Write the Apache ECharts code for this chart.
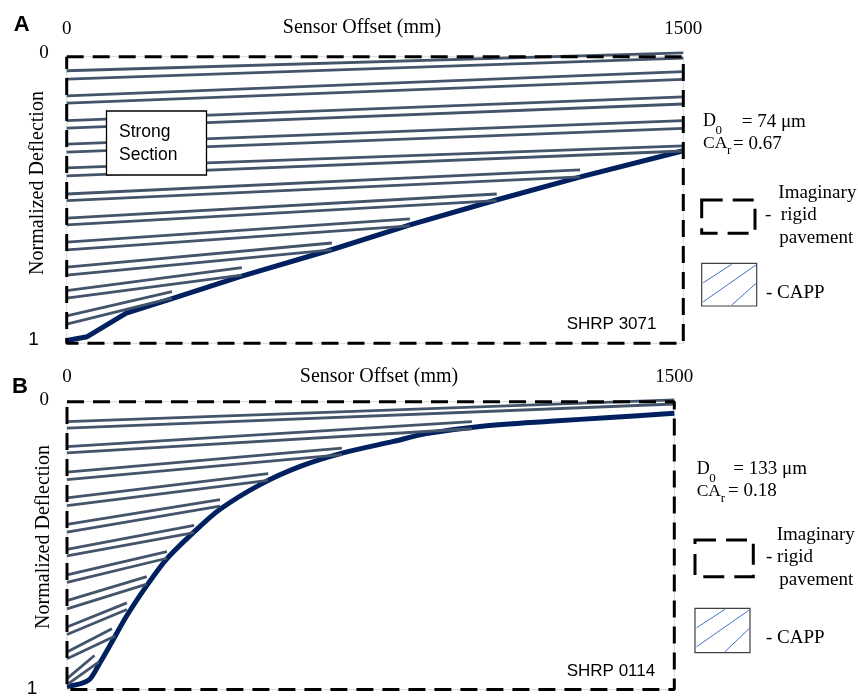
<!DOCTYPE html>
<html>
<head>
<meta charset="utf-8">
<script src="https://cdn.jsdelivr.net/npm/echarts@6/dist/echarts.min.js"></script>
<style>html,body{margin:0;padding:0;background:#fff}#c{width:858px;height:698px}</style>
</head>
<body>
<div id="c"></div>
<script>
// ---- data ----
const xTicks = [0, 1500];
const xTickLabels = ['0', '1500'];
const yTicks = [0, 1];
const yTickLabels = ['0', '1'];
const xTitle = 'Sensor Offset (mm)';
const yTitle = 'Normalized Deflection';

// imaginary rigid pavement frame (offset mm, normalized deflection)
const rigidFrame = [[0, 0], [1500, 0], [1500, 1], [0, 1], [0, 0]];

// Panel A - SHRP 3071
const curveA = [[0, 0.99], [50, 0.977], [145, 0.895], [260, 0.842], [420, 0.768], [650, 0.671], [835, 0.587], [1045, 0.50], [1250, 0.419], [1500, 0.328]];
const hatchA = [
  [0, 0.049, 1500, -0.013], [0, 0.078, 1500, 0.005],
  [0, 0.137, 1500, 0.052], [0, 0.162, 1500, 0.079],
  [0, 0.223, 1500, 0.140], [0, 0.249, 1500, 0.165],
  [0, 0.305, 1500, 0.223], [0, 0.333, 1500, 0.250],
  [0, 0.388, 1500, 0.311], [0, 0.416, 1500, 0.329],
  [0, 0.479, 1249, 0.395], [0, 0.502, 1249, 0.419],
  [0, 0.563, 1046, 0.479], [0, 0.587, 1046, 0.502],
  [0, 0.647, 835, 0.566], [0, 0.674, 835, 0.590],
  [0, 0.734, 645, 0.650], [0, 0.762, 645, 0.674],
  [0, 0.816, 426, 0.736], [0, 0.842, 426, 0.762],
  [0, 0.904, 256, 0.820], [0, 0.933, 256, 0.842]
];
const infoA = {d0: '74 μm', car: '0.67', site: 'SHRP 3071'};

// Panel B - SHRP 0114
const curveB = [[0, 0.99], [53, 0.968], [80, 0.91], [106, 0.847], [148, 0.743], [197, 0.639], [246, 0.547], [312, 0.455], [378, 0.374], [477, 0.288], [576, 0.225], [682, 0.178], [806, 0.138], [888, 0.111], [1020, 0.086], [1193, 0.068], [1341, 0.055], [1500, 0.040]];
const hatchB = [
  [0, 0.069, 1500, -0.006], [0, 0.092, 1500, 0.008],
  [0, 0.156, 1000, 0.069], [0, 0.178, 1000, 0.094],
  [0, 0.245, 679, 0.161], [0, 0.271, 679, 0.184],
  [0, 0.334, 497, 0.250], [0, 0.361, 497, 0.273],
  [0, 0.426, 378, 0.340], [0, 0.453, 378, 0.363],
  [0, 0.513, 314, 0.430], [0, 0.536, 314, 0.455],
  [0, 0.602, 247, 0.521], [0, 0.628, 247, 0.544],
  [0, 0.691, 197, 0.608], [0, 0.720, 197, 0.634],
  [0, 0.783, 148, 0.699], [0, 0.809, 148, 0.722],
  [0, 0.870, 111, 0.789], [0, 0.893, 119, 0.814],
  [0, 0.962, 68, 0.882], [0, 0.983, 79, 0.904]
];
const infoB = {d0: '133 μm', car: '0.18', site: 'SHRP 0114'};

// ---- styling ----
const SERIF = '"Liberation Serif", "Times New Roman", serif';
const SANS = '"Liberation Sans", Arial, sans-serif';
const NAVY = '#002060';
const HATCH = '#44546A';

function xAxisFor(i, margin) {
  return {
    gridIndex: i, type: 'value', min: 0, max: 1500, interval: 1500, position: 'top',
    axisLine: {show: false}, axisTick: {show: false}, splitLine: {show: false},
    axisLabel: {
      margin: margin, fontFamily: SERIF, fontSize: 19, color: '#000',
      showMinLabel: true, showMaxLabel: true,
      formatter: v => xTickLabels[xTicks.indexOf(v)]
    }
  };
}
function yAxisFor(i, up0, up1, extra1) {
  return {
    gridIndex: i, type: 'value', min: 0, max: 1, interval: 1, inverse: true,
    axisLine: {show: false}, axisTick: {show: false}, splitLine: {show: false},
    axisLabel: {
      margin: 18, color: '#000',
      formatter: v => (v === 0 ? '{a|' : '{b|') + yTickLabels[yTicks.indexOf(v)] + '}',
      rich: {
        a: {fontFamily: SERIF, fontSize: 19, color: '#000', padding: [0, 0, up0 * 2, 0]},
        b: {fontFamily: SANS, fontSize: 19, color: '#000', padding: [0, extra1, up1 * 2, 0]}
      }
    }
  };
}
function seriesFor(i, curve, hatch, smooth) {
  return [
    {
      type: 'line', xAxisIndex: i, yAxisIndex: i, data: curve, symbol: 'none',
      smooth: smooth,
      lineStyle: {color: NAVY, width: 5, join: 'round'}, z: 2, silent: true, clip: false
    },
    {
      type: 'lines', coordinateSystem: 'cartesian2d', xAxisIndex: i, yAxisIndex: i,
      data: hatch.map(s => ({coords: [[s[0], s[1]], [s[2], s[3]]]})),
      lineStyle: {color: HATCH, width: 2.8, opacity: 1, curveness: 0},
      z: 3, silent: true, clip: false
    },
    {
      type: 'line', xAxisIndex: i, yAxisIndex: i, data: rigidFrame, symbol: 'none',
      lineStyle: {color: '#000', width: 3, type: [17, 9]}, z: 4, silent: true, clip: false
    }
  ];
}

function txt(x, y, text, opts) {
  opts = opts || {};
  return {
    type: 'text', x: x, y: y, rotation: opts.rot || 0, z: 100, silent: true,
    style: {
      text: text,
      font: (opts.bold ? 'bold ' : '') + (opts.size || 19) + 'px ' + (opts.font || SERIF),
      fill: '#000',
      align: opts.align || 'left',
      verticalAlign: 'middle'
    }
  };
}
function line(x1, y1, x2, y2) {
  return {type: 'line', shape: {x1, y1, x2, y2}, style: {stroke: '#4472C4', lineWidth: 1}, z: 100, silent: true};
}
function panelGraphics(o, info) {
  return [
    txt(o.lx, o.ly, o.letter, {bold: true, size: 22, font: SANS, align: 'center'}),
    txt(o.tx, o.ty, xTitle, {align: 'center', size: 20}),
    txt(o.nx, o.ny, yTitle, {align: 'center', rot: Math.PI / 2, size: 20}),
    txt(o.dx, o.dy, 'D', {size: 18}),
    txt(o.dx + 12.5, o.dy + 9, '0', {size: 13}),
    txt(o.dex, o.dy, '= ' + info.d0),
    txt(o.dx, o.dy + 22, 'CA', {size: 17.5}),
    txt(o.dx + 24, o.dy + 29, 'r', {size: 13}),
    txt(o.cex, o.dy + 22, '= ' + info.car),
    {type: 'rect', shape: {x: o.rx, y: o.ry, width: o.rw, height: o.rh},
     style: {fill: 'none', stroke: '#000', lineWidth: 3, lineDash: [21, 10]}, z: 100, silent: true},
    txt(o.ix, o.iy, 'Imaginary'),
    txt(o.gx, o.iy + 22, o.rigid),
    txt(o.px, o.iy + 45, 'pavement'),
    {type: 'rect', shape: {x: o.cx, y: o.cy, width: 55, height: o.ch},
     style: {fill: '#fff', stroke: '#404040', lineWidth: 1.2}, z: 100, silent: true},
    line(o.cx + 1.5, o.cy + 19.5, o.cx + 30, o.cy + 1),
    line(o.cx + 1.5, o.cy + 38.5, o.cx + 54.5, o.cy + 1.5),
    line(o.cx + 30, o.cy + o.ch - 1, o.cx + 54.5, o.cy + 20),
    txt(766, o.cy + 30, '- CAPP'),
    txt(566.7, o.sy, info.site, {size: 17, font: SANS})
  ];
}

const graphicA = panelGraphics({
  letter: 'A', lx: 21.7, ly: 25, tx: 362, ty: 28, nx: 38, ny: 183,
  dx: 703, dy: 121.7, dex: 741.7, cex: 733,
  rx: 701.7, ry: 200, rw: 53.3, rh: 33.3,
  ix: 778.3, iy: 193.3, gx: 765, rigid: '-  rigid', px: 779.3,
  cx: 701.7, cy: 263.3, ch: 42.7, sy: 324.3
}, infoA);
const graphicB = panelGraphics({
  letter: 'B', lx: 20, ly: 386.7, tx: 379, ty: 377, nx: 43.5, ny: 537,
  dx: 696.7, dy: 469.3, dex: 733.3, cex: 728,
  rx: 695, ry: 540, rw: 58.3, rh: 36.7,
  ix: 776.7, iy: 535, gx: 766, rigid: '- rigid', px: 779.3,
  cx: 695, cy: 608.3, ch: 44.3, sy: 671.7
}, infoB);

const strongBox = [
  {type: 'rect', shape: {x: 106.5, y: 111, width: 100, height: 64},
   style: {fill: '#fff', stroke: '#000', lineWidth: 1.3}, z: 50, silent: true},
  txt(119, 131.7, 'Strong', {size: 17.5, font: SANS}),
  txt(119, 155, 'Section', {size: 17.5, font: SANS})
];

const chart = echarts.init(document.getElementById('c'), null, {renderer: 'canvas'});
chart.setOption({
  animation: false,
  backgroundColor: '#fff',
  grid: [
    {left: 66.7, top: 56.7, width: 616.6, height: 286.6, show: true, borderColor: '#d9d9d9', borderWidth: 1, backgroundColor: 'transparent'},
    {left: 67, top: 401.7, width: 607.3, height: 289.3, show: true, borderColor: '#d9d9d9', borderWidth: 1, backgroundColor: 'transparent'}
  ],
  xAxis: [xAxisFor(0, 18), xAxisFor(1, 15.5)],
  yAxis: [yAxisFor(0, 3.4, 3.3, 10), yAxisFor(1, 1.7, 1, 11.6)],
  series: seriesFor(0, curveA, hatchA, false).concat(seriesFor(1, curveB, hatchB, 0.3)),
  graphic: graphicA.concat(graphicB, strongBox)
});
</script>
</body>
</html>
